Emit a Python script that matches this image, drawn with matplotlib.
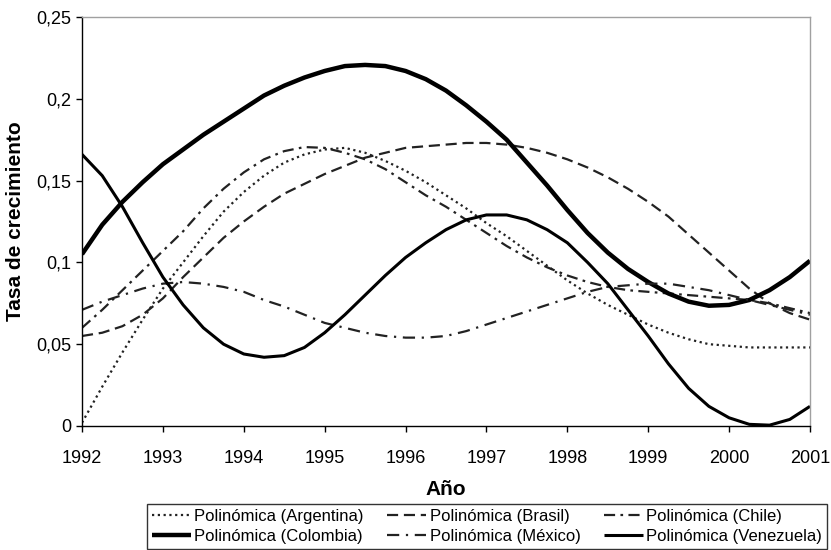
import numpy as np
import matplotlib
matplotlib.use("Agg")
import matplotlib.pyplot as plt

plt.rcParams.update({
    "font.family": ["Liberation Sans", "DejaVu Sans"],
    "font.size": 13,
})

# ---- data (polynomial trend lines, every quarter year) ----
years = [1992.00, 1992.25, 1992.50, 1992.75, 1993.00, 1993.25, 1993.50, 1993.75,
         1994.00, 1994.25, 1994.50, 1994.75, 1995.00, 1995.25, 1995.50, 1995.75,
         1996.00, 1996.25, 1996.50, 1996.75, 1997.00, 1997.25, 1997.50, 1997.75,
         1998.00, 1998.25, 1998.50, 1998.75, 1999.00, 1999.25, 1999.50, 1999.75,
         2000.00, 2000.25, 2000.50, 2000.75, 2001.00]

argentina = [0.002, 0.024, 0.045, 0.065, 0.084, 0.100, 0.116, 0.131,
             0.143, 0.153, 0.161, 0.166, 0.169, 0.170, 0.167, 0.162,
             0.156, 0.149, 0.141, 0.133, 0.124, 0.116, 0.107, 0.098,
             0.089, 0.081, 0.074, 0.068, 0.062, 0.057, 0.053, 0.050,
             0.049, 0.048, 0.048, 0.048, 0.048]

brasil = [0.055, 0.057, 0.061, 0.068, 0.078, 0.091, 0.103, 0.115,
          0.125, 0.134, 0.142, 0.148, 0.154, 0.159, 0.164, 0.167,
          0.170, 0.171, 0.172, 0.173, 0.173, 0.172, 0.170, 0.167,
          0.163, 0.158, 0.152, 0.145, 0.137, 0.128, 0.117, 0.106,
          0.095, 0.084, 0.075, 0.069, 0.065]

chile = [0.060, 0.071, 0.083, 0.095, 0.107, 0.119, 0.133, 0.145,
         0.155, 0.163, 0.168, 0.1705, 0.170, 0.167, 0.163, 0.157,
         0.149, 0.141, 0.134, 0.126, 0.118, 0.110, 0.103, 0.097,
         0.092, 0.088, 0.085, 0.083, 0.082, 0.081, 0.080, 0.079,
         0.078, 0.077, 0.075, 0.072, 0.069]

colombia = [0.105, 0.123, 0.137, 0.149, 0.160, 0.169, 0.178, 0.186,
            0.194, 0.202, 0.208, 0.213, 0.217, 0.220, 0.2207, 0.220,
            0.217, 0.212, 0.205, 0.196, 0.186, 0.175, 0.161, 0.147,
            0.132, 0.118, 0.106, 0.096, 0.088, 0.081, 0.076, 0.0735,
            0.074, 0.077, 0.083, 0.091, 0.101]

mexico = [0.071, 0.076, 0.080, 0.084, 0.087, 0.088, 0.087, 0.085,
          0.082, 0.077, 0.073, 0.068, 0.063, 0.060, 0.057, 0.055,
          0.054, 0.054, 0.055, 0.058, 0.062, 0.066, 0.070, 0.074,
          0.078, 0.082, 0.085, 0.086, 0.087, 0.087, 0.085, 0.083,
          0.080, 0.077, 0.074, 0.071, 0.068]

venezuela = [0.166, 0.153, 0.134, 0.112, 0.091, 0.074, 0.060, 0.050,
             0.044, 0.042, 0.043, 0.048, 0.057, 0.068, 0.080, 0.092,
             0.103, 0.112, 0.120, 0.126, 0.129, 0.129, 0.126, 0.120,
             0.112, 0.100, 0.087, 0.071, 0.055, 0.038, 0.023, 0.012,
             0.005, 0.001, 0.0005, 0.004, 0.012]

y_ticks = [0, 0.05, 0.1, 0.15, 0.2, 0.25]
y_tick_labels = ["0", "0,05", "0,1", "0,15", "0,2", "0,25"]
x_ticks = list(range(1992, 2002))

fig = plt.figure(figsize=(8.31, 5.5), dpi=100)
ax = fig.add_axes([0.0987, 0.2255, 0.876, 0.7436])

dk = "#222222"
l_arg, = ax.plot(years, argentina, color=dk, lw=1.6, ls=(0, (1.0, 1.6)))
l_bra, = ax.plot(years, brasil, color=dk, lw=1.6, ls=(0, (5.0, 2.6)))
l_chi, = ax.plot(years, chile, color=dk, lw=1.6, ls=(0, (5.0, 2.4, 1.2, 2.4)))
l_col, = ax.plot(years, colombia, color="black", lw=3.2, solid_capstyle="butt")
l_mex, = ax.plot(years, mexico, color=dk, lw=1.6, ls=(0, (5.5, 3.0, 1.0, 3.0)))
l_ven, = ax.plot(years, venezuela, color="black", lw=2.2, solid_capstyle="butt")

ax.set_xlim(1992, 2001)
ax.set_ylim(0, 0.25)
ax.set_xticks(x_ticks)
ax.set_yticks(y_ticks)
ax.set_yticklabels(y_tick_labels)
ax.tick_params(direction="out", length=4, width=1, color="black", labelsize=13)
ax.tick_params(axis="x", pad=13)

for s in ["left", "bottom"]:
    ax.spines[s].set_color("black")
    ax.spines[s].set_linewidth(1.0)
for s in ["top", "right"]:
    ax.spines[s].set_color("#a0a0a0")
    ax.spines[s].set_linewidth(1.0)

ax.set_xlabel("Año", fontsize=15, fontweight="bold", labelpad=10)
ax.set_ylabel("Tasa de crecimiento", fontsize=15, fontweight="bold", labelpad=8)

handles = [l_arg, l_col, l_bra, l_mex, l_chi, l_ven]
labels = ["Polinómica (Argentina)", "Polinómica (Colombia)",
          "Polinómica (Brasil)", "Polinómica (México)",
          "Polinómica (Chile)", "Polinómica (Venezuela)"]
leg = fig.legend(handles, labels, ncol=3, loc="upper left", mode="expand",
                 bbox_to_anchor=(147 / 831, 1 - 504 / 550, (827 - 147) / 831, 0.0),
                 fontsize=12, frameon=True, fancybox=False, shadow=False,
                 handlelength=2.35, handletextpad=0.2, columnspacing=1.0,
                 borderpad=0.3, labelspacing=0.3, borderaxespad=0)
leg.get_frame().set_edgecolor("black")
leg.get_frame().set_linewidth(1.0)

fig.savefig("out.png", dpi=100)
